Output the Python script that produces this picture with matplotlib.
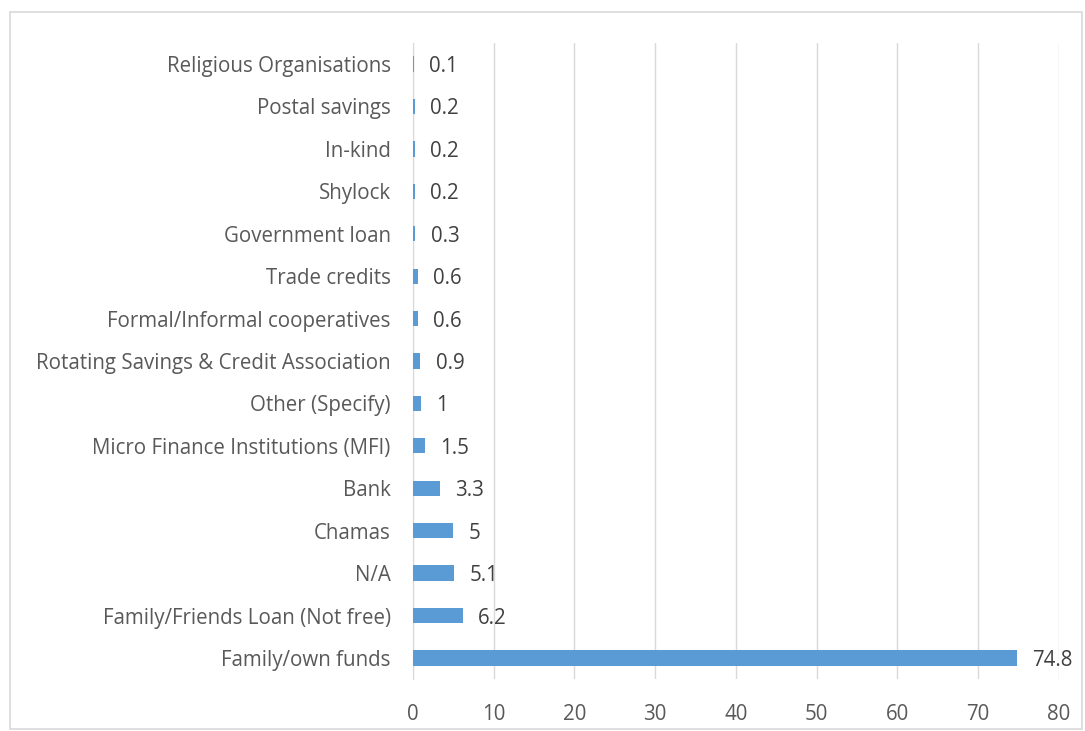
import matplotlib
matplotlib.use("Agg")
import matplotlib.pyplot as plt
from matplotlib.patches import Rectangle

categories = [
    "Family/own funds",
    "Family/Friends Loan (Not free)",
    "N/A",
    "Chamas",
    "Bank",
    "Micro Finance Institutions (MFI)",
    "Other (Specify)",
    "Rotating Savings & Credit Association",
    "Formal/Informal cooperatives",
    "Trade credits",
    "Government loan",
    "Shylock",
    "In-kind",
    "Postal savings",
    "Religious Organisations",
]
values = [74.8, 6.2, 5.1, 5, 3.3, 1.5, 1, 0.9, 0.6, 0.6, 0.3, 0.2, 0.2, 0.2, 0.1]
value_labels = ["74.8", "6.2", "5.1", "5", "3.3", "1.5", "1", "0.9", "0.6", "0.6",
                "0.3", "0.2", "0.2", "0.2", "0.1"]
xticks = [0, 10, 20, 30, 40, 50, 60, 70, 80]

plt.rcParams["font.family"] = ["Open Sans", "DejaVu Sans"]

fig = plt.figure(figsize=(10.85, 7.31), dpi=100)
fig.patches.append(Rectangle((10 / 1085, 1 - 729 / 731), 1072 / 1085, 717 / 731,
                             transform=fig.transFigure, fill=False,
                             edgecolor="#D9D9D9", linewidth=1.2))
ax = fig.add_axes([0.3806, 0.0709, 0.5954, 0.8705])

ypos = list(range(len(categories)))
ax.barh(ypos, values, height=0.36, color="#5B9BD5", zorder=3)
for y, v, lab in zip(ypos, values, value_labels):
    ax.text(v + 1.9, y, lab, va="center_baseline", ha="left", fontsize=14.8,
            color="#404040")

ax.set_xlim(0, 80)
ax.set_ylim(-0.5, len(categories) - 0.5)
ax.set_xticks(xticks)
ax.set_yticks(ypos)
ax.set_yticklabels(categories)
ax.tick_params(axis="both", length=0, labelsize=14.8, labelcolor="#595959")
ax.tick_params(axis="y", pad=16)
ax.tick_params(axis="x", pad=18)
ax.grid(axis="x", color="#D9D9D9", linewidth=1, zorder=0)
for side in ["top", "right", "bottom"]:
    ax.spines[side].set_visible(False)
ax.spines["left"].set_color("#D9D9D9")

fig.savefig("out.png", dpi=100)
